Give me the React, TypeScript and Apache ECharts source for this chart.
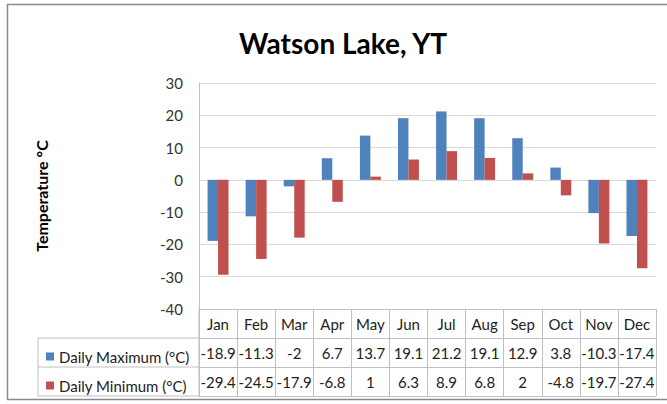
import React, { useEffect, useRef } from "react";
import * as echarts from "echarts";

const months = ["Jan", "Feb", "Mar", "Apr", "May", "Jun", "Jul", "Aug", "Sep", "Oct", "Nov", "Dec"];
const maxName = "Daily Maximum (°C)";
const minName = "Daily Minimum (°C)";
const maxVals = [-18.9, -11.3, -2, 6.7, 13.7, 19.1, 21.2, 19.1, 12.9, 3.8, -10.3, -17.4];
const minVals = [-29.4, -24.5, -17.9, -6.8, 1, 6.3, 8.9, 6.8, 2, -4.8, -19.7, -27.4];

const FONT = "Lato, 'Open Sans', sans-serif";
const TABLE_LINE = "#bfbfbf";
const TXT = "#222";

export default function App() {
  const ref = useRef<HTMLDivElement>(null);
  useEffect(() => {
    if (!ref.current) return;
    const chart = echarts.init(ref.current, null, { renderer: "svg" });
    const gridLeft = 199, gridTop = 83, gridW = 457, gridH = 226;
    const rowH = 29;
    const y0 = gridTop + gridH;
    const tableAxis = (offset: number, fmt: (i: number) => string, showLabel = true) => ({
      type: "category",
      gridIndex: 0,
      data: months,
      position: "bottom",
      offset,
      axisLine: { show: true, onZero: false, lineStyle: { color: TABLE_LINE, width: 1 } },
      axisTick: { show: showLabel, length: rowH, interval: 0, alignWithLabel: false, lineStyle: { color: TABLE_LINE } },
      axisLabel: {
        show: showLabel,
        interval: 0,
        margin: 7,
        fontFamily: FONT,
        fontSize: 15,
        color: TXT,
        formatter: (_v: string, i: number) => fmt(i),
      },
      splitLine: { show: false },
    });
    chart.setOption({
      animation: false,
      backgroundColor: "#fff",
      textStyle: { fontFamily: FONT },
      title: {
        text: "Watson Lake, YT",
        left: 338,
        top: 24,
        textAlign: "center",
        textStyle: { fontFamily: FONT, fontSize: 28, fontWeight: "bold", color: "#000" },
      },
      legend: [
        {
          data: [maxName],
          left: 41,
          top: y0 + rowH + 6,
          icon: "rect",
          itemWidth: 8,
          itemHeight: 8,
          textStyle: { fontFamily: FONT, fontSize: 15, color: TXT },
          selectedMode: false,
        },
        {
          data: [minName],
          left: 41,
          top: y0 + 2 * rowH + 6,
          icon: "rect",
          itemWidth: 8,
          itemHeight: 8,
          textStyle: { fontFamily: FONT, fontSize: 15, color: TXT },
          selectedMode: false,
        },
      ],
      grid: { left: gridLeft, top: gridTop, width: gridW, height: gridH, containLabel: false },
      xAxis: [
        tableAxis(0, (i) => months[i]),
        tableAxis(rowH, (i) => String(maxVals[i])),
        tableAxis(2 * rowH, (i) => String(minVals[i])),
        tableAxis(3 * rowH, () => "", false),
      ],
      yAxis: {
        type: "value",
        min: -40,
        max: 30,
        interval: 10,
        name: "Temperature °C",
        nameLocation: "middle",
        nameRotate: 90,
        nameGap: 150,
        nameTextStyle: { fontFamily: FONT, fontSize: 16, fontWeight: "bold", color: "#000" },
        axisLine: { show: true, lineStyle: { color: TABLE_LINE } },
        axisTick: { show: false },
        axisLabel: { fontFamily: FONT, fontSize: 15, color: "#333", margin: 16 },
        splitLine: { show: true, lineStyle: { color: "#d9d9d9" } },
      },
      series: [
        {
          name: maxName,
          type: "bar",
          data: maxVals,
          xAxisIndex: 0,
          itemStyle: { color: "#4F81BD" },
          barGap: "0%",
          barCategoryGap: "45%",
        },
        {
          name: minName,
          type: "bar",
          data: minVals,
          xAxisIndex: 0,
          itemStyle: { color: "#C0504D" },
          barGap: "0%",
          barCategoryGap: "45%",
        },
      ],
      graphic: [
        {
          type: "rect",
          shape: { x: 7.5, y: 4.5, width: 720, height: 395 },
          style: { fill: "none", stroke: "#8a8a8a", lineWidth: 1.5 },
          silent: true,
          z: -1,
        },
        { type: "line", shape: { x1: 38, y1: y0 + rowH, x2: gridLeft, y2: y0 + rowH }, style: { stroke: TABLE_LINE, lineWidth: 1 } },
        { type: "line", shape: { x1: 38, y1: y0 + 2 * rowH, x2: gridLeft, y2: y0 + 2 * rowH }, style: { stroke: TABLE_LINE, lineWidth: 1 } },
        { type: "line", shape: { x1: 38, y1: y0 + 3 * rowH, x2: gridLeft, y2: y0 + 3 * rowH }, style: { stroke: TABLE_LINE, lineWidth: 1 } },
        { type: "line", shape: { x1: 38, y1: y0 + rowH, x2: 38, y2: y0 + 3 * rowH }, style: { stroke: TABLE_LINE, lineWidth: 1 } },
        { type: "line", shape: { x1: gridLeft, y1: y0, x2: gridLeft, y2: y0 + 3 * rowH }, style: { stroke: TABLE_LINE, lineWidth: 1 } },
      ],
    });
    return () => chart.dispose();
  }, []);
  return <div ref={ref} style={{ width: 667, height: 404, position: "absolute", left: 0, top: 0 }} />;
}
